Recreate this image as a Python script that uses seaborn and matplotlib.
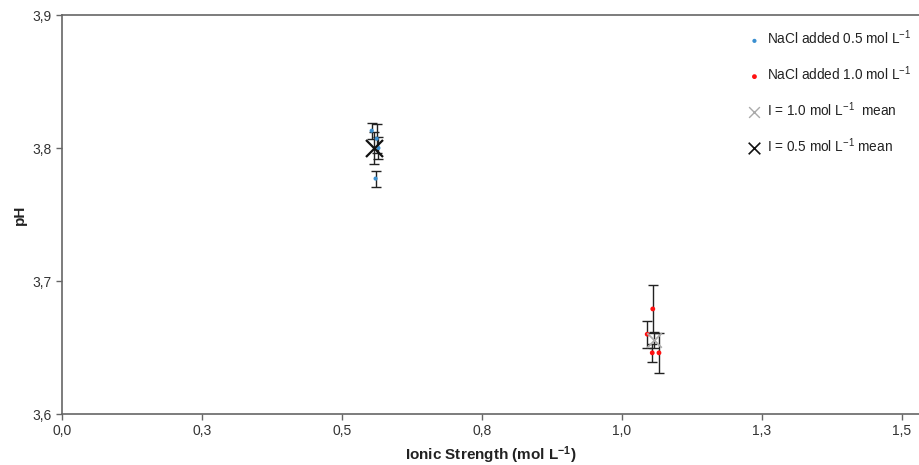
import matplotlib
matplotlib.use("Agg")
import matplotlib.pyplot as plt
import seaborn as sns
import pandas as pd

# ---- data ----
blue_x = [0.553, 0.562, 0.565, 0.560]
blue_y = [3.813, 3.807, 3.800, 3.777]
blue_err = [0.006, 0.011, 0.008, 0.006]

red_x = [1.055, 1.045, 1.054, 1.066]
red_y = [3.679, 3.660, 3.646, 3.646]
red_err = [0.018, 0.010, 0.007, 0.015]

mean05_x = [0.557]
mean05_y = [3.800]
mean05_err = [0.012]

mean10_x = [1.058]
mean10_y = [3.656]
mean10_err = [0.006]

xticks = [0.0, 0.25, 0.5, 0.75, 1.0, 1.25, 1.5]
xtick_labels = ["0,0", "0,3", "0,5", "0,8", "1,0", "1,3", "1,5"]
yticks = [3.6, 3.7, 3.8, 3.9]
ytick_labels = ["3,6", "3,7", "3,8", "3,9"]

sns.set_style("white")
plt.rcParams['font.family'] = ['Liberation Sans', 'DejaVu Sans']
plt.rcParams['mathtext.default'] = 'regular'

fig = plt.figure(figsize=(9.19, 4.65), dpi=100)
ax = fig.add_axes([62/919, 1 - 414/465, 1 - 62/919, (414 - 15)/465])

lab05 = "NaCl added 0.5 mol L$^{-1}$"
lab10 = "NaCl added 1.0 mol L$^{-1}$"
labm10 = "I = 1.0 mol L$^{-1}$  mean"
labm05 = "I = 0.5 mol L$^{-1}$ mean"

# error bars
ebkw = dict(fmt='none', ecolor='#222222', elinewidth=1.0, capsize=3.5, capthick=1.0, zorder=2)
ax.errorbar(blue_x, blue_y, yerr=blue_err, **ebkw)
ax.errorbar(red_x, red_y, yerr=red_err, **ebkw)
ax.errorbar(mean05_x, mean05_y, yerr=mean05_err, **ebkw)
ax.errorbar(mean10_x, mean10_y, yerr=mean10_err, **ebkw)

df_b = pd.DataFrame({"x": blue_x, "y": blue_y})
df_r = pd.DataFrame({"x": red_x, "y": red_y})
df_m10 = pd.DataFrame({"x": mean10_x, "y": mean10_y})
df_m05 = pd.DataFrame({"x": mean05_x, "y": mean05_y})

sns.scatterplot(data=df_b, x="x", y="y", ax=ax, color="#3a8fd0", marker="o",
                s=9, edgecolor="none", label=lab05, zorder=3)
sns.scatterplot(data=df_r, x="x", y="y", ax=ax, color="#ff1010", marker="o",
                s=12, edgecolor="none", label=lab10, zorder=3)
sns.scatterplot(data=df_m10, x="x", y="y", ax=ax, color="#aaaaaa", marker="x",
                s=110, linewidth=1.3, label=labm10, zorder=4)
sns.scatterplot(data=df_m05, x="x", y="y", ax=ax, color="#111111", marker="x",
                s=150, linewidth=1.6, label=labm05, zorder=4)

ax.set_xlim(0, 857/560)
ax.set_ylim(3.6, 3.9)
ax.set_xticks(xticks)
ax.set_xticklabels(xtick_labels)
ax.set_yticks(yticks)
ax.set_yticklabels(ytick_labels)

for side in ['left', 'bottom', 'top']:
    ax.spines[side].set_visible(True)
    ax.spines[side].set_color('#666666')
    ax.spines[side].set_linewidth(1.2)
ax.spines['right'].set_visible(False)
ax.tick_params(axis='both', direction='out', length=4, width=1, color='#666666',
               labelsize=10, labelcolor='#333333', bottom=True, left=True, top=False)

ax.set_xlabel("Ionic Strength (mol L$^{-1}$)", fontsize=11, fontweight='bold', color='#222222')
ax.set_ylabel("pH", fontsize=11, fontweight='bold', color='#222222')

leg = ax.legend(loc='upper right', bbox_to_anchor=(1.005, 0.996), frameon=False,
                fontsize=9.8, labelspacing=1.26, handletextpad=0.4,
                handlelength=1.0, markerscale=1.0)
hs = leg.legend_handles
hs[2].set_sizes([60]); hs[2].set_linewidths([1.0])
hs[3].set_sizes([70]); hs[3].set_linewidths([1.2])
for t in leg.get_texts():
    t.set_color('#222222')

fig.savefig("out.png", dpi=100)
